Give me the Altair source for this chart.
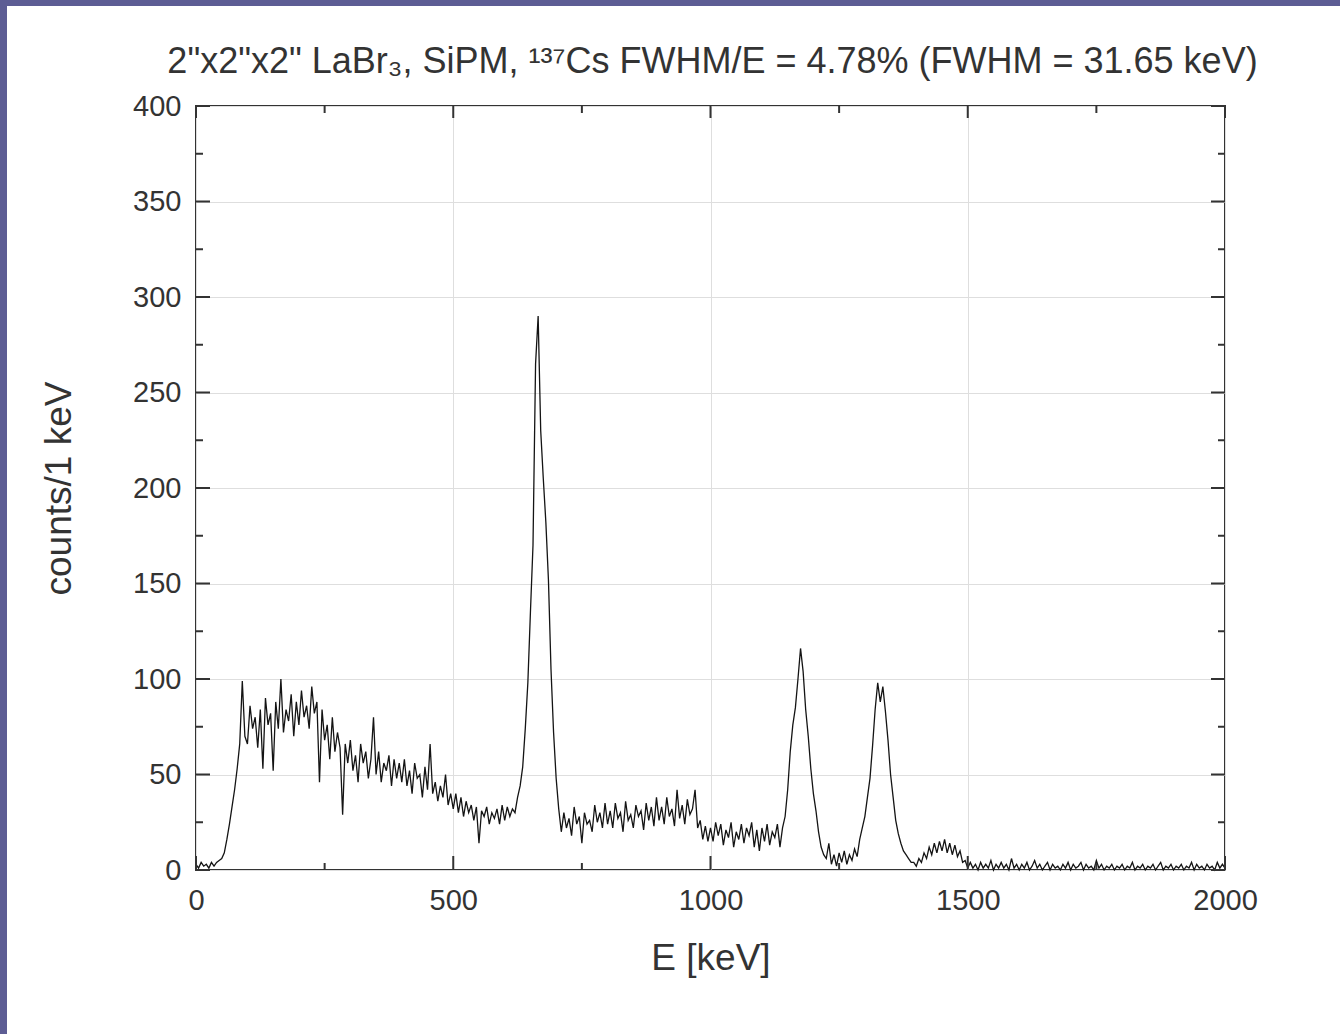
import altair as alt
import pandas as pd

FONT = "Liberation Sans"
TEXT = "#333333"
FRAME = "#333333"
PURPLE = "#5d5d94"

energy_step = 5
counts_0_495 = [
    3, 1, 4, 2, 3, 1, 4, 2, 4, 5, 6, 9, 16, 24, 33, 42, 53, 66, 99, 70,
    66, 86, 74, 80, 64, 84, 53, 90, 76, 82, 52, 88, 74, 100, 72, 84, 78, 92, 70, 88,
    76, 94, 80, 86, 74, 96, 82, 88, 46, 84, 68, 76, 58, 80, 62, 72, 64, 29, 66, 56,
    68, 52, 60, 46, 66, 56, 62, 48, 58, 80, 50, 62, 46, 56, 52, 60, 44, 58, 48, 56,
    46, 58, 44, 52, 40, 56, 48, 50, 38, 54, 42, 66, 40, 46, 36, 44, 38, 50, 34, 40,
]
counts_500_995 = [
    32, 40, 30, 38, 28, 36, 30, 34, 26, 33, 14, 31, 28, 33, 24, 30, 27, 32, 24, 34,
    26, 33, 28, 32, 30, 38, 44, 54, 74, 98, 135, 170, 265, 290, 230, 205, 182, 152, 105, 72,
    48, 32, 20, 30, 22, 27, 18, 33, 24, 28, 14, 30, 24, 26, 20, 34, 25, 30, 22, 35,
    24, 31, 22, 35, 27, 30, 20, 36, 26, 29, 22, 34, 28, 31, 21, 35, 26, 33, 23, 38,
    26, 33, 24, 38, 28, 32, 23, 42, 27, 34, 24, 37, 29, 32, 42, 22, 26, 16, 23, 15,
]
counts_1000_1495 = [
    22, 15, 25, 18, 24, 13, 21, 17, 25, 12, 20, 16, 24, 14, 22, 18, 25, 12, 21, 10,
    22, 15, 24, 13, 20, 17, 24, 12, 22, 28, 42, 62, 76, 85, 100, 116, 104, 84, 70, 53,
    40, 31, 20, 12, 8, 6, 14, 3, 8, 2, 9, 4, 10, 3, 8, 5, 11, 7, 16, 22,
    28, 38, 48, 65, 84, 98, 88, 96, 83, 68, 50, 38, 26, 19, 14, 10, 8, 6, 4, 4,
    2, 6, 4, 9, 6, 12, 8, 14, 9, 15, 10, 16, 9, 14, 8, 13, 7, 10, 4, 5,
]
counts_1500_2000 = [
    1, 4, 1, 3, 0, 4, 1, 3, 1, 5, 0, 3, 1, 4, 1, 3, 0, 6, 1, 3,
    0, 3, 1, 4, 0, 2, 5, 1, 3, 0, 2, 4, 0, 3, 1, 2, 0, 3, 1, 4,
    0, 3, 1, 2, 4, 0, 3, 1, 2, 0, 5, 1, 3, 0, 2, 1, 3, 0, 2, 1,
    3, 0, 2, 1, 4, 0, 2, 1, 3, 0, 2, 1, 3, 0, 2, 4, 0, 2, 1, 3,
    0, 2, 1, 3, 0, 2, 1, 4, 0, 3, 1, 2, 0, 3, 1, 2, 0, 4, 1, 3,
    1,
]
counts = counts_0_495 + counts_500_995 + counts_1000_1495 + counts_1500_2000
energy = [i * energy_step for i in range(len(counts))]

x_major = [0, 500, 1000, 1500, 2000]
x_minor = [250, 750, 1250, 1750]
y_major = [0, 50, 100, 150, 200, 250, 300, 350, 400]
y_minor = [25, 75, 125, 175, 225, 275, 325, 375]

TITLE = '2"x2"x2" LaBr\u2083, SiPM, \u00b9\u00b3\u2077Cs FWHM/E = 4.78% (FWHM = 31.65 keV)'

W, H = 1029, 764
PAD_L, PAD_T = 196, 106
PAGE_W, PAGE_H = 1340, 1034

df = pd.DataFrame({"E": energy, "C": counts})
xs = alt.Scale(domain=[0, 2000], nice=False, zero=False)
ys = alt.Scale(domain=[0, 400], nice=False, zero=False)

x_axis = alt.Axis(
    values=x_major, format="d", grid=True, gridColor="#dedede", gridWidth=1,
    ticks=False, tickSize=0, domain=False, labelFlush=False,
    labelFont=FONT, labelFontSize=29, labelColor=TEXT, labelPadding=16,
    title="E [keV]", titleFont=FONT, titleFontSize=37, titleFontWeight="normal",
    titleColor=TEXT, titlePadding=25)
y_axis = alt.Axis(
    values=y_major, format="d", grid=True, gridColor="#dedede", gridWidth=1,
    ticks=False, tickSize=0, domain=False, labelFlush=False,
    labelFont=FONT, labelFontSize=29, labelColor=TEXT, labelPadding=15,
    title="counts/1 keV", titleFont=FONT, titleFontSize=37, titleFontWeight="normal",
    titleColor=TEXT, titlePadding=54)

line = alt.Chart(df).mark_line(color="#141414", strokeWidth=1.3).encode(
    x=alt.X("E:Q", scale=xs, axis=x_axis),
    y=alt.Y("C:Q", scale=ys, axis=y_axis),
)

def xticks(vals, y0, y1):
    return alt.Chart(pd.DataFrame({"E": vals})).mark_rule(color=FRAME, strokeWidth=2).encode(
        x=alt.X("E:Q", scale=xs, axis=x_axis), y=alt.value(y0), y2=alt.value(y1))

def yticks(vals, x0, x1):
    return alt.Chart(pd.DataFrame({"C": vals})).mark_rule(color=FRAME, strokeWidth=2).encode(
        y=alt.Y("C:Q", scale=ys, axis=y_axis), x=alt.value(x0), x2=alt.value(x1))

ticks = [
    xticks(x_major, H, H - 14), xticks(x_minor, H, H - 7),
    xticks(x_major, 0, 12), xticks(x_minor, 0, 7),
    yticks(y_major, 0, 14), yticks(y_minor, 0, 7),
    yticks(y_major, W, W - 14), yticks(y_minor, W, W - 7),
]

one = pd.DataFrame({"a": [0]})
border_top = alt.Chart(one).mark_rect(color=PURPLE).encode(
    x=alt.value(-PAD_L), x2=alt.value(PAGE_W - PAD_L),
    y=alt.value(-PAD_T), y2=alt.value(6 - PAD_T))
border_left = alt.Chart(one).mark_rect(color=PURPLE).encode(
    x=alt.value(-PAD_L), x2=alt.value(7 - PAD_L),
    y=alt.value(-PAD_T), y2=alt.value(PAGE_H - PAD_T))

title = alt.Chart(pd.DataFrame({"t": [TITLE]})).mark_text(
    font=FONT, fontSize=36, color=TEXT, align="center", baseline="alphabetic"
).encode(text="t:N", x=alt.value(W / 2 + 2), y=alt.value(-33))

chart = alt.layer(line, *ticks, border_top, border_left, title).properties(
    width=W, height=H,
    autosize=alt.AutoSizeParams(type="none"),
    padding={"left": PAD_L, "top": PAD_T, "right": PAGE_W - PAD_L - W, "bottom": PAGE_H - PAD_T - H},
    background="white",
).configure_view(stroke=FRAME, strokeWidth=2)

chart.save("out.html", embed_options={"renderer": "svg", "actions": False})
